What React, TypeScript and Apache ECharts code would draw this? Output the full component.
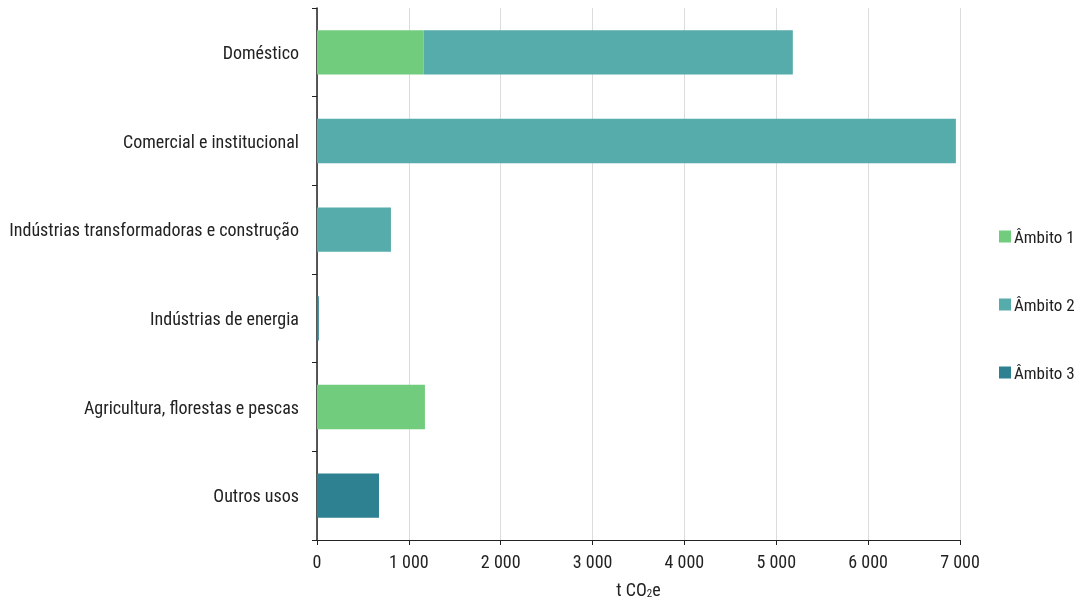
import React, { useEffect, useRef } from "react";
import * as echarts from "echarts";

const categories = [
  "Doméstico",
  "Comercial e institucional",
  "Indústrias transformadoras e construção",
  "Indústrias de energia",
  "Agricultura, florestas e pescas",
  "Outros usos",
];
const ambito1 = [1160, 0, 0, 0, 1175, 0];
const ambito2 = [4020, 6955, 805, 0, 0, 0];
const ambito3 = [0, 0, 0, 20, 0, 675];
const seriesNames = ["Âmbito 1", "Âmbito 2", "Âmbito 3"];
const colors = ["#71cc7e", "#56abab", "#2e8190"];

const FONT = "'Liberation Sans Narrow', 'Roboto Condensed', 'DejaVu Sans Condensed', sans-serif";
const FS = 18;

export default function App() {
  const ref = useRef<HTMLDivElement>(null);
  useEffect(() => {
    const chart = echarts.init(ref.current!, null, { renderer: "svg" });
    const data = [ambito1, ambito2, ambito3];
    chart.setOption({
      animation: false,
      textStyle: { fontFamily: FONT },
      grid: { left: 317, right: 118, top: 8, bottom: 65, containLabel: false },
      legend: {
        orient: "vertical",
        left: 994,
        top: 223,
        itemWidth: 12,
        itemHeight: 12,
        itemGap: 51,
        icon: "rect",
        textStyle: { fontFamily: FONT, fontSize: 17, color: "#222", padding: [0, 0, 0, -2] },
        data: seriesNames,
      },
      xAxis: {
        type: "value",
        min: 0,
        max: 7000,
        interval: 1000,
        name: "t CO{sub|2}e",
        nameLocation: "middle",
        nameGap: 40,
        nameTextStyle: {
          fontFamily: FONT,
          fontSize: FS,
          color: "#222",
          rich: { sub: { fontFamily: FONT, fontSize: 11, color: "#222", padding: [8, 0, 0, 0] } },
        },
        axisLine: { show: true, lineStyle: { color: "#222", width: 1 } },
        axisTick: { show: true, length: 5, lineStyle: { color: "#222" } },
        axisLabel: {
          fontFamily: FONT,
          fontSize: FS,
          color: "#222",
          margin: 12,
          formatter: (v: number) => String(v).replace(/\B(?=(\d{3})+(?!\d))/g, " "),
        },
        splitLine: { show: true, lineStyle: { color: "#dcdcdc", width: 1 } },
      },
      yAxis: {
        type: "category",
        inverse: true,
        data: categories,
        axisLine: { show: true, lineStyle: { color: "#222", width: 1.5 } },
        axisTick: { show: true, length: 5, lineStyle: { color: "#222" } },
        axisLabel: { fontFamily: FONT, fontSize: FS, color: "#222", margin: 18 },
        splitLine: { show: false },
      },
      series: seriesNames.map((n, i) => ({
        name: n,
        type: "bar",
        stack: "total",
        barWidth: "50%",
        itemStyle: { color: colors[i] },
        data: data[i],
      })),
    });
    return () => chart.dispose();
  }, []);
  return (
    <div
      ref={ref}
      style={{ position: "fixed", left: 0, top: 0, width: 1078, height: 605, overflow: "hidden" }}
    />
  );
}
